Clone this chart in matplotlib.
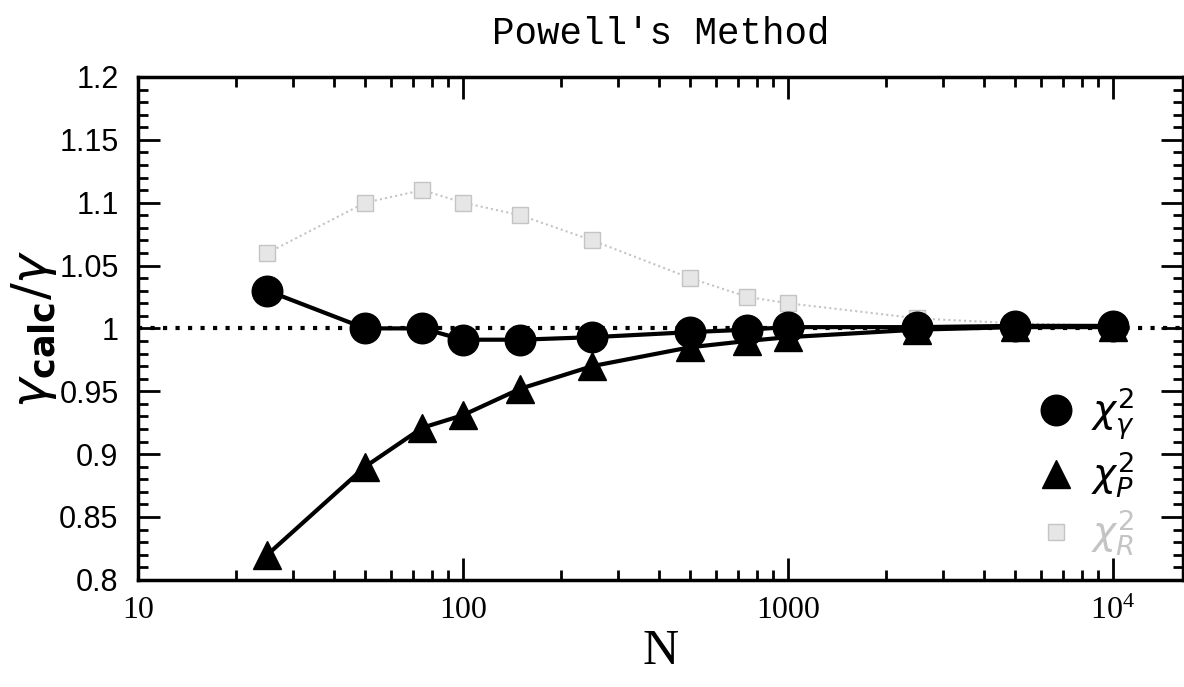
import matplotlib
matplotlib.use("Agg")
import matplotlib.pyplot as plt
from matplotlib.lines import Line2D
from matplotlib.ticker import FixedLocator, FixedFormatter, MultipleLocator, LogLocator, NullFormatter

N = [25, 50, 75, 100, 150, 250, 500, 750, 1000, 2500, 5000, 10000]
chi_gamma = [1.03, 1.0, 1.0, 0.991, 0.991, 0.993, 0.997, 0.999, 1.001, 1.001, 1.002, 1.002]
chi_p = [0.82, 0.89, 0.921, 0.931, 0.952, 0.970, 0.985, 0.990, 0.993, 0.999, 1.001, 1.001]
chi_gray = [1.06, 1.10, 1.11, 1.10, 1.09, 1.07, 1.04, 1.025, 1.02, 1.008, 1.004, 1.002]

x_ticks = [10, 100, 1000, 10000]
x_labels = ["10", "100", "1000", r"$\mathregular{10^4}$"]

fig = plt.figure(figsize=(11.84, 6.87), dpi=100)
ax = fig.add_axes([0.1166, 0.156, 0.8824, 0.732])

gray = "#c4c4c4"
ax.axhline(1.0, color="black", linestyle=(0, (1, 2)), linewidth=3, zorder=1)
ax.plot(N, chi_gray, color=gray, linestyle=(0, (1, 1.5)), linewidth=1.5,
        marker="s", markersize=12, markerfacecolor="#e6e6e6", markeredgecolor=gray, zorder=2)
ax.plot(N, chi_p, color="black", linewidth=3, marker="^", markersize=20, zorder=3)
ax.plot(N, chi_gamma, color="black", linewidth=3, marker="o", markersize=22, zorder=4)

ax.set_xscale("log")
ax.set_xlim(10, 16400)
ax.set_ylim(0.8, 1.2)

ax.xaxis.set_major_locator(FixedLocator(x_ticks))
ax.xaxis.set_major_formatter(FixedFormatter(x_labels))
ax.xaxis.set_minor_locator(LogLocator(base=10, subs=range(2, 10)))
ax.xaxis.set_minor_formatter(NullFormatter())
ax.yaxis.set_major_locator(MultipleLocator(0.05))
ax.yaxis.set_minor_locator(MultipleLocator(0.01))
ax.yaxis.set_major_formatter(matplotlib.ticker.FuncFormatter(lambda v, p: f"{v:.2f}".rstrip("0").rstrip(".")))

ax.tick_params(which="major", direction="in", length=16, width=2, top=True, right=True)
ax.tick_params(axis="y", which="major", pad=14)
ax.tick_params(axis="x", which="major", pad=12)
ax.tick_params(which="minor", direction="in", length=7.5, width=2, top=True, right=True)
for lab in ax.get_xticklabels():
    lab.set_fontfamily("Liberation Serif")
    lab.set_fontsize(23)
for lab in ax.get_yticklabels():
    lab.set_fontfamily("Liberation Sans")
    lab.set_fontsize(22)
for s in ax.spines.values():
    s.set_linewidth(2.5)

ax.set_xlabel("N", fontfamily="Liberation Serif", fontsize=36, labelpad=2)
ax.set_ylabel(r"$\gamma_{\mathbf{calc}}/\gamma$", fontsize=36, labelpad=0)
ax.set_title("Powell's Method", fontfamily="Liberation Mono", fontsize=27, pad=24)

handles = [
    Line2D([], [], color="black", marker="o", linestyle="none", markersize=22),
    Line2D([], [], color="black", marker="^", linestyle="none", markersize=20),
    Line2D([], [], color=gray, marker="s", linestyle="none", markersize=12,
           markerfacecolor="#e6e6e6", markeredgecolor=gray),
]
labels = [r"$\chi^2_\gamma$", r"$\chi^2_P$", r"$\chi^2_R$"]
leg = ax.legend(handles, labels, loc="lower right", bbox_to_anchor=(0.98, -0.01),
                frameon=False, fontsize=28, handlelength=1.0, handletextpad=0.4,
                labelspacing=0.2, borderaxespad=0.3)
leg.get_texts()[2].set_color(gray)

fig.savefig("out.png", dpi=100)
